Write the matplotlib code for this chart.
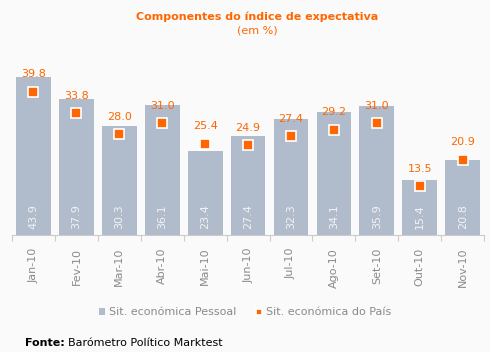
import matplotlib.pyplot as plt
import numpy as np

months = ["Jan-10", "Fev-10", "Mar-10", "Abr-10", "Mai-10", "Jun-10",
          "Jul-10", "Ago-10", "Set-10", "Out-10", "Nov-10"]
pessoal = [43.9, 37.9, 30.3, 36.1, 23.4, 27.4, 32.3, 34.1, 35.9, 15.4, 20.8]
pais = [39.8, 33.8, 28.0, 31.0, 25.4, 24.9, 27.4, 29.2, 31.0, 13.5, 20.9]

bg = "#fafafa"
bar_col = "#b0bbcb"
orange = "#ff6600"
grey = "#8a8a8a"

fig = plt.figure(figsize=(4.9, 3.52), dpi=100, facecolor=bg)
ax = fig.add_axes([0.0245, 0.332, 0.9635, 0.512])
ax.set_facecolor(bg)

x = np.arange(len(months))
b = ax.bar(x, pessoal, width=0.81, color=bar_col, zorder=2, label="Sit. económica Pessoal")
m, = ax.plot(x, pais, ls="none", marker="s", ms=6.5, mfc=orange, mec="white", mew=1.2,
             zorder=3, label="Sit. económica do País")

for i in range(len(months)):
    ax.text(x[i], 1.8, "%.1f" % pessoal[i], rotation=90, ha="center", va="bottom",
            color="#f2f2f2", fontsize=8, zorder=4)
    ax.annotate("%.1f" % pais[i], (x[i], pais[i]), xytext=(0, 9), textcoords="offset points",
                ha="center", va="bottom", color=orange, fontsize=8, zorder=4)

ax.set_xlim(-0.5, len(months) - 0.5)
ax.set_ylim(0, 50)
ax.set_yticks([])
for s in ["top", "right", "left"]:
    ax.spines[s].set_visible(False)
ax.spines["bottom"].set_color("#cccccc")
ax.set_xticks(np.append(x - 0.5, len(months) - 0.5))
ax.set_xticklabels([""] * (len(months) + 1))
ax.tick_params(axis="x", length=4, color="#cccccc")
for i in range(len(months)):
    ax.text(x[i], -3.5, months[i], rotation=90, ha="center", va="top",
            color=grey, fontsize=8)

fig.text(0.525, 0.952, "Componentes do índice de expectativa", ha="center", va="center",
         color=orange, fontsize=8, fontweight="bold")
fig.text(0.525, 0.912, "(em %)", ha="center", va="center", color=orange, fontsize=8)

leg = fig.legend([b, m], ["Sit. económica Pessoal", "Sit. económica do País"],
                 loc="center", bbox_to_anchor=(0.5, 0.113), ncol=2, frameon=False,
                 fontsize=8, handlelength=0.6, handleheight=0.6, handletextpad=0.3,
                 columnspacing=1.8, markerscale=0.6)
for t in leg.get_texts():
    t.set_color(grey)

t1 = fig.text(0.05, 0.025, "Fonte:", ha="left", va="center", fontsize=8, fontweight="bold")
fig.text(0.05, 0.025, "", fontsize=8)
ax.annotate("Barómetro Político Marktest", xy=(1, 0.5), xycoords=t1,
            xytext=(3, 0), textcoords="offset points", ha="left", va="center",
            fontsize=8, annotation_clip=False)

fig.savefig("out.png", dpi=100, facecolor=bg)
